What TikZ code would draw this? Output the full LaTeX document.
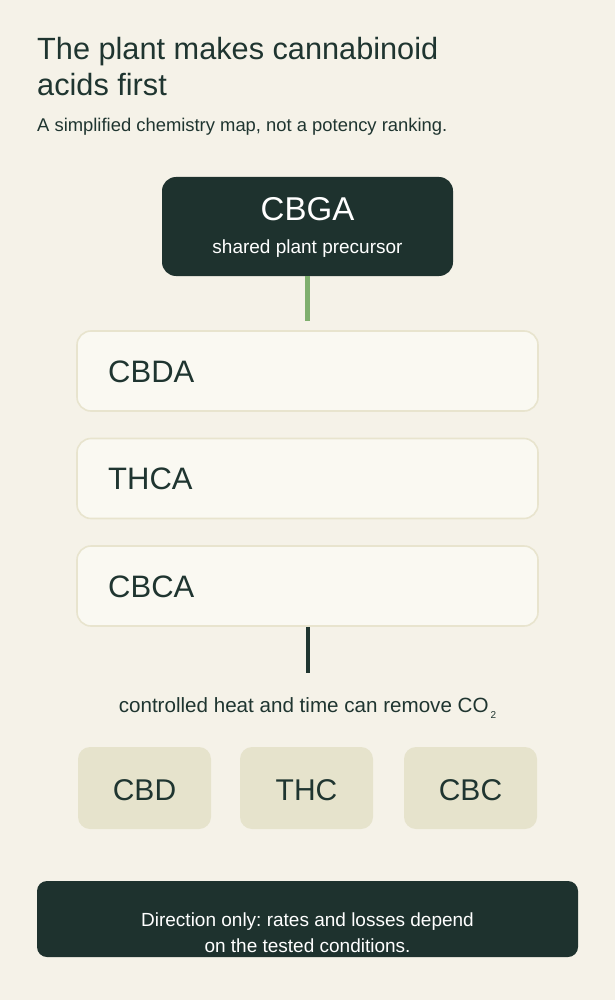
\documentclass[tikz,border=0pt]{standalone}
\usepackage{fontspec}
\setmainfont{Liberation Sans}
\frenchspacing
\definecolor{bg}{HTML}{F5F2E8}
\definecolor{ink}{HTML}{1F3530}
\definecolor{dark}{HTML}{1E322E}
\definecolor{leaf}{HTML}{7FAF6E}
\definecolor{card}{HTML}{FAF9F2}
\definecolor{cardline}{HTML}{E8E4CE}
\definecolor{chip}{HTML}{E6E3CC}
\begin{document}
\begin{tikzpicture}[x=1pt,y=-1pt,
  darkbox/.style={fill=dark,rounded corners=14pt,inner sep=0pt},
  acidbox/.style={fill=card,draw=cardline,line width=1.6pt,rounded corners=14pt,minimum width=461pt,minimum height=80pt,inner sep=0pt},
  chipbox/.style={fill=chip,rounded corners=12pt,minimum width=133pt,minimum height=82pt,inner sep=0pt},
  chiplabel/.style={anchor=base,text=ink,font=\fontsize{30}{34}\selectfont,inner sep=0pt},
  acidlabel/.style={anchor=base west,text=ink,font=\fontsize{31}{34}\selectfont,inner sep=0pt}]
\useasboundingbox[fill=bg] (0,0) rectangle (615,1000);
% title
\node[anchor=base west,inner sep=0pt,text=ink,font=\fontsize{30.7}{36}\selectfont] (title1) at (37,60) {The plant makes cannabinoid};
\node[anchor=base west,inner sep=0pt,text=ink,font=\fontsize{30.7}{36}\selectfont] (title2) at (37,96) {acids first};
\node[anchor=base west,inner sep=0pt,text=ink,font=\fontsize{18.4}{22}\selectfont] (sub) at (37,132) {A simplified chemistry map, not a potency ranking.};
% CBGA
\node[darkbox,minimum width=291pt,minimum height=99pt] (cbga) at (307.5,226.5) {};
\node[anchor=base,text=white,font=\fontsize{33}{36}\selectfont,inner sep=0pt] (cbgat) at (307.5,221) {CBGA};
\node[anchor=base,text=white,font=\fontsize{19}{22}\selectfont,inner sep=0pt] (cbgas) at (307.5,254) {shared plant precursor};
% acids
\node[acidbox] (cbda) at (307.5,371) {};
\node[acidbox] (thca) at (307.5,478.5) {};
\node[acidbox] (cbca) at (307.5,586) {};
\node[acidlabel] at (108,382) {CBDA};
\node[acidlabel] at (108,489.5) {THCA};
\node[acidlabel] at (108,597) {CBCA};
\draw[leaf,line width=5pt,shorten >=9pt] (cbga.south) -- (cbda.north);
\coordinate (heatend) at (307.5,673);
\draw[ink,line width=4pt] (cbca.south) -- (heatend);
% heat label
\node[anchor=base,text=ink,font=\fontsize{20.6}{24}\selectfont,inner sep=0pt] (heat) at (307.5,712) {controlled heat and time can remove CO\kern2pt\raisebox{-6pt}{\fontsize{10}{12}\selectfont 2}};
% chips
\node[chipbox] (cbd) at (144.5,788) {};
\node[chipbox] (thc) at (306.5,788) {};
\node[chipbox] (cbc) at (470.5,788) {};
\node[chiplabel] at (144.5,800) {CBD};
\node[chiplabel] at (306.5,800) {THC};
\node[chiplabel] at (470.5,800) {CBC};
% footer
\node[darkbox,rounded corners=10pt,minimum width=541pt,minimum height=76pt] (foot) at (307.5,919) {};
\node[anchor=base,text=white,font=\fontsize{19}{22}\selectfont,inner sep=0pt] (foot1) at (307.5,926) {Direction only: rates and losses depend};
\node[anchor=base,text=white,font=\fontsize{19}{22}\selectfont,inner sep=0pt] (foot2) at (307.5,952) {on the tested conditions.};
\end{tikzpicture}
\end{document}
